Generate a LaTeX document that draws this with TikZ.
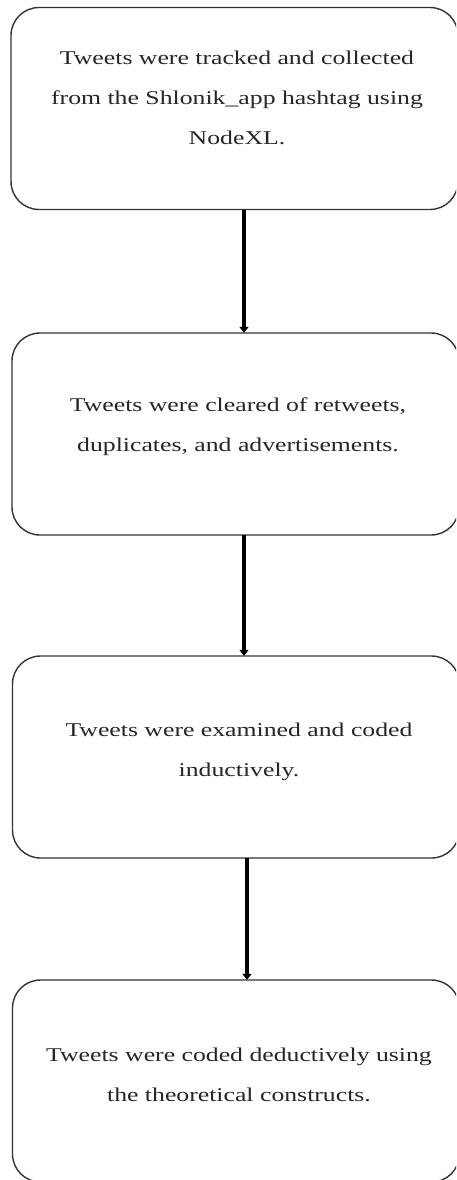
\documentclass[tikz,border=0pt]{standalone}
\usepackage{fontspec}
\setmainfont{Liberation Serif}
\usetikzlibrary{arrows.meta}
\begin{document}
\begin{tikzpicture}[x=1pt,y=-1pt,
  stepbox/.style={draw=black!80, line width=1.4pt, rounded corners=28pt, minimum width=447pt, minimum height=202pt, inner sep=0pt},
  steptext/.style={align=center, font=\fontsize{19.5}{40}\selectfont, text=black!85, xscale=1.32, transform shape},
  flow/.style={line width=3.6pt, -{Triangle[width=9pt,length=6pt]}, shorten >=-0.5pt}]
\clip (0,0) rectangle (456,1180);
\fill[white] (0,0) rectangle (456,1180);
\node[stepbox] (b1) at (234.5,108.5) {};
\node[stepbox] (b2) at (235.5,434) {};
\node[stepbox] (b3) at (236,757) {};
\node[stepbox] (b4) at (236,1081) {};
\node[steptext] (t1) at (237,98) {Tweets were tracked and collected\\from the Shlonik\_app hashtag using\\NodeXL.};
\node[steptext] (t2) at (238,427) {Tweets were cleared of retweets,\\duplicates, and advertisements.};
\node[steptext] (t3) at (239,752) {Tweets were examined and coded\\inductively.};
\node[steptext] (t4) at (239,1075) {Tweets were coded deductively using\\the theoretical constructs.};
\coordinate (a1s) at (244,210);
\coordinate (a2s) at (244,535);
\coordinate (a3s) at (247,858);
\draw[flow] (a1s) -- (a1s |- b2.north);
\draw[flow] (a2s) -- (a2s |- b3.north);
\draw[flow] (a3s) -- (a3s |- b4.north);
\end{tikzpicture}
\end{document}
